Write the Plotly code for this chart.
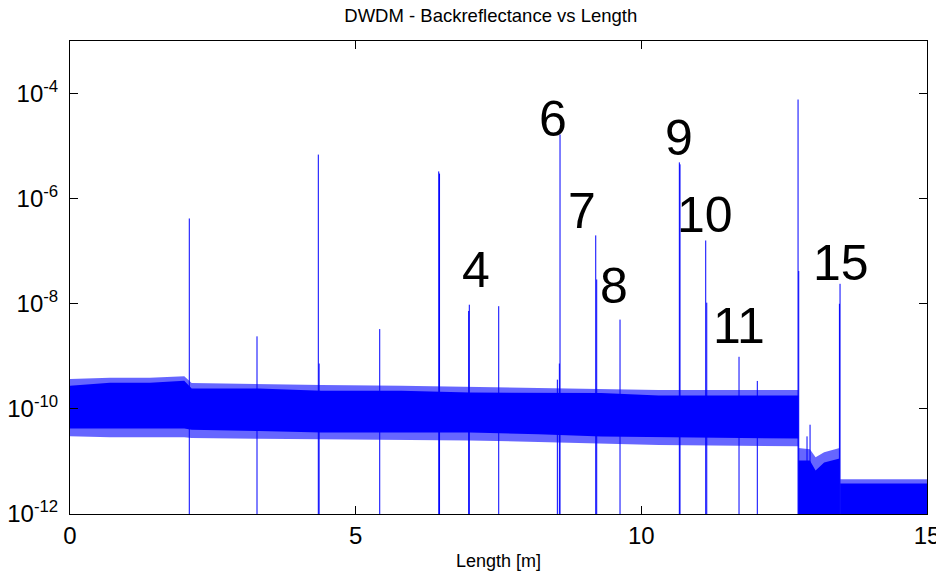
import plotly.graph_objects as go

# ---------------- data ----------------
# noise floor, segment 1 (before the fibre end at ~12.75 m)
band1_x = [0, 0.7, 1.4, 2.0, 2.13, 3.3, 4.4, 5.8, 7.0, 8.2, 9.3, 10.3, 12.75]
band1_core_hi = [2.77e-10, 3.16e-10, 3.16e-10, 3.44e-10, 2.43e-10, 2.43e-10, 2.22e-10,
                 2.22e-10, 2.04e-10, 2.04e-10, 2.0e-10, 1.79e-10, 1.79e-10]
band1_core_lo = [4.22e-11, 4.22e-11, 4.22e-11, 4.22e-11, 4.0e-11, 3.8e-11, 3.54e-11,
                 3.54e-11, 3.54e-11, 3.3e-11, 2.97e-11, 2.85e-11, 2.72e-11]
band1_fringe_hi = [3.7e-10, 3.9e-10, 3.9e-10, 4.2e-10, 3.1e-10, 2.95e-10, 2.85e-10,
                   2.75e-10, 2.6e-10, 2.5e-10, 2.4e-10, 2.3e-10, 2.3e-10]
band1_fringe_lo = [3.0e-11, 2.9e-11, 2.9e-11, 2.9e-11, 2.8e-11, 2.7e-11, 2.6e-11,
                   2.55e-11, 2.5e-11, 2.35e-11, 2.2e-11, 2.05e-11, 1.95e-11]

# noise floor, segment 2 (12.75 m - 13.47 m)
band2_x = [12.75, 12.95, 13.05, 13.2, 13.47]
band2_core_hi = [1.04e-11, 1.04e-11, 6.7e-12, 9.5e-12, 1.14e-11]
band2_fringe_hi = [1.8e-11, 1.7e-11, 1.2e-11, 1.5e-11, 1.8e-11]

# noise floor, segment 3 (after 13.48 m)
band3_x = [13.48, 15.0]
band3_core_hi = [3.81e-12, 3.81e-12]
band3_fringe_hi = [4.6e-12, 4.6e-12]

floor_lo = 5e-13  # below the visible range

# reflection spikes: position [m] and peak backreflectance
spike_x = [2.088, 3.273, 4.346, 4.36, 5.421, 6.454, 6.468, 6.978, 6.989, 7.504,
           8.530, 8.565, 8.577, 9.202, 9.219, 9.627, 10.665, 10.677, 11.127, 11.145,
           11.710, 12.030, 12.743, 12.755, 12.90, 12.953, 13.467, 13.478]
spike_peak = [4.2e-7, 2.4e-9, 6.9e-6, 7.3e-10, 3.3e-9, 3.3e-6, 3.0e-6, 7.3e-9, 9.6e-9, 9.0e-9,
              3.6e-10, 7.3e-10, 1.66e-5, 2.0e-7, 2.9e-8, 5.0e-9, 4.9e-6, 4.5e-6, 1.6e-7, 1.05e-8,
              9.8e-10, 3.4e-10, 7.7e-5, 4.2e-8, 3.0e-11, 5.0e-11, 1.0e-8, 2.4e-8]
spike_base = 1e-12

# event labels: text, x [m], log10(y)
label_text = ["4", "6", "7", "8", "9", "10", "11", "15"]
label_x = [7.10, 8.45, 8.96, 9.52, 10.66, 11.115, 11.71, 13.49]
label_logy = [-7.356, -4.48, -6.237, -7.66, -4.844, -6.308, -8.425, -7.233]

# axis ticks
x_ticks = [0, 5, 10, 15]
y_ticks = [1e-12, 1e-10, 1e-8, 1e-6, 1e-4]
y_ticktext = ["10<sup>-12</sup>", "10<sup>-10</sup>", "10<sup>-8</sup>",
              "10<sup>-6</sup>", "10<sup>-4</sup>"]

# ---------------- figure ----------------
BLUE = "#0000ff"
FRINGE = "rgba(0,0,255,0.6)"
FONT = "Liberation Sans, Arial, Helvetica, sans-serif"

fig = go.Figure()


def band(xs, hi, lo, color):
    px = list(xs) + list(xs)[::-1]
    py = list(hi) + list(lo)[::-1]
    fig.add_trace(go.Scatter(x=px, y=py, mode="lines", fill="toself",
                             fillcolor=color, line=dict(width=0, color=color),
                             hoverinfo="skip", showlegend=False))


# fringe (outer, lighter) then core (solid)
band(band1_x, band1_fringe_hi, band1_fringe_lo, FRINGE)
band(band2_x, band2_fringe_hi, [floor_lo] * len(band2_x), FRINGE)
band(band3_x, band3_fringe_hi, [floor_lo] * len(band3_x), FRINGE)
band(band1_x, band1_core_hi, band1_core_lo, BLUE)
band(band2_x, band2_core_hi, [floor_lo] * len(band2_x), BLUE)
band(band3_x, band3_core_hi, [floor_lo] * len(band3_x), BLUE)

# spikes
sx, sy = [], []
for x, p in zip(spike_x, spike_peak):
    sx += [x, x, None]
    sy += [spike_base, p, None]
fig.add_trace(go.Scatter(x=sx, y=sy, mode="lines", line=dict(color=BLUE, width=1),
                         showlegend=False, hoverinfo="skip"))

for t, x, ly in zip(label_text, label_x, label_logy):
    fig.add_annotation(x=x, y=ly, xref="x", yref="y", text=t, showarrow=False,
                       font=dict(family=FONT, size=50, color="black"))

fig.update_layout(
    width=936, height=571,
    margin=dict(l=70, r=9, t=41, b=57),
    paper_bgcolor="white", plot_bgcolor="white",
    title=dict(text="DWDM - Backreflectance vs Length", x=0.491, xanchor="center",
               xref="paper", y=1 - 16 / 571, yanchor="middle", yref="container",
               font=dict(family=FONT, size=18.5, color="black")),
    font=dict(family=FONT, color="black"),
)
fig.update_xaxes(range=[0, 15], tickvals=x_ticks, ticks="inside", ticklen=8,
                 tickcolor="black", showline=True, linecolor="black", linewidth=1,
                 mirror="ticks", showgrid=False, zeroline=False, automargin=False,
                 ticklabeloverflow="allow",
                 tickfont=dict(family=FONT, size=24, color="black"),
                 title=dict(text="Length [m]", standoff=12,
                            font=dict(family=FONT, size=18, color="black")))
fig.update_yaxes(type="log", range=[-12, -3], tickvals=y_ticks, ticktext=y_ticktext,
                 ticks="inside", ticklen=8, tickcolor="black", showline=True,
                 linecolor="black", linewidth=1, mirror="ticks", showgrid=False,
                 zeroline=False, ticklabelstandoff=6, ticklabeloverflow="allow",
                 automargin=False,
                 tickfont=dict(family=FONT, size=24, color="black"))

fig.write_html("out.html")
